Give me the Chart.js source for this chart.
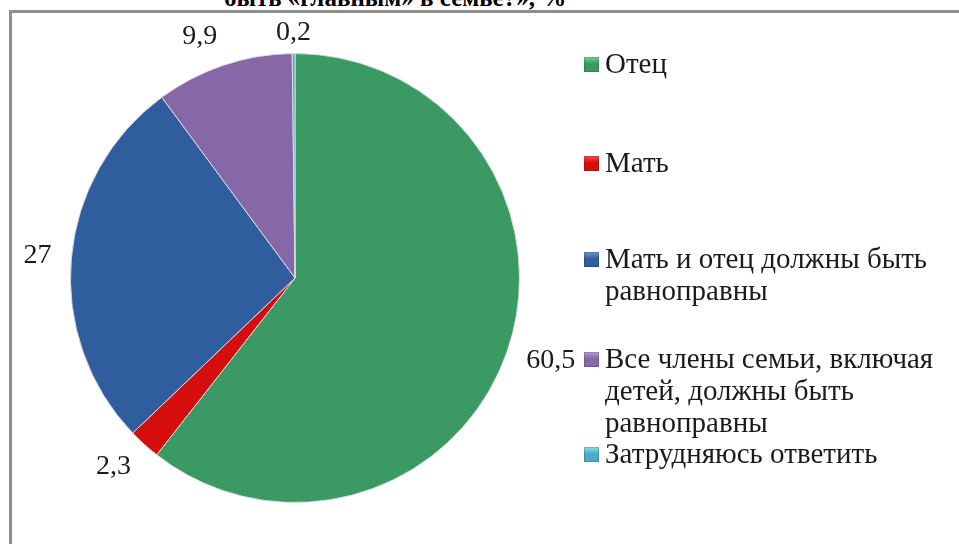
<!DOCTYPE html>
<html>
<head>
<meta charset="utf-8">
<script src="https://cdn.jsdelivr.net/npm/chart.js@4"></script>
<style>
  html, body { margin: 0; padding: 0; background: #fff; overflow: hidden; }
  #wrap { position: relative; width: 959px; height: 544px; overflow: hidden; font-family: "Liberation Serif", "DejaVu Serif", serif; }
  #frame { position: absolute; left: 9px; top: 10px; width: 2000px; height: 2000px; border: 3px solid #8e8e8e; box-sizing: border-box; }
  #title { position: absolute; left: 224px; top: -14px; font-size: 25px; font-weight: bold; line-height: 24px; white-space: nowrap; color: #000; }
  #chart { position: absolute; left: 0; top: 0; }
  .item { position: absolute; left: 584px; width: 370px; font-size: 29px; line-height: 32px; color: #1a1a1a; }
  .box { position: absolute; left: 0; top: 10px; width: 15px; height: 15px; }
  .txt { margin-left: 21px; }
</style>
</head>
<body>
<div id="wrap">
  <div id="frame"></div>
  <div id="title">быть «главным» в семье?», %</div>
  <canvas id="chart" width="959" height="544"></canvas>
  <div id="legend"></div>
</div>
<script>
// Data
var categories = ['Отец', 'Мать', 'Мать и отец должны быть равноправны',
                  'Все члены семьи, включая детей, должны быть равноправны', 'Затрудняюсь ответить'];
var legendLines = [['Отец'], ['Мать'], ['Мать и отец должны быть', 'равноправны'],
                   ['Все члены семьи, включая', 'детей, должны быть', 'равноправны'], ['Затрудняюсь ответить']];
var values = [60.5, 2.3, 27, 9.9, 0.2];
var valueLabels = ['60,5', '2,3', '27', '9,9', '0,2'];

// Styles
var colors = ['#3b9a64', '#d40d0d', '#2f5d9d', '#8668a9', '#4babc5'];
var lightColors = ['#6fd39a', '#ff4a4a', '#6a97d8', '#b89ad8', '#8adcf0'];
var legendTops = [47, 146, 242, 342, 437];

// Value labels outside the slices, kept inside the frame
var outsideLabels = {
    id: 'outsideLabels',
    afterDatasetsDraw: function(chart) {
        var ctx = chart.ctx;
        var arcs = chart.getDatasetMeta(0).data;
        ctx.save();
        ctx.font = '28px "Liberation Serif", "DejaVu Serif", serif';
        ctx.fillStyle = '#1a1a1a';
        ctx.textAlign = 'center';
        ctx.textBaseline = 'middle';
        arcs.forEach(function(arc, i) {
            var p = arc.getProps(['x', 'y', 'startAngle', 'endAngle', 'outerRadius'], true);
            var mid = (p.startAngle + p.endAngle) / 2;
            var dx = Math.cos(mid), dy = Math.sin(mid);
            var w = ctx.measureText(valueLabels[i]).width;
            var h = 20;
            var r = p.outerRadius + 20;
            var x = p.x + dx * r + (Math.abs(dx) > 0.05 ? Math.sign(dx) * w / 2 : 0);
            var y = p.y + dy * r + dy * h / 2;
            if (y < 33) y = 33;
            ctx.fillText(valueLabels[i], x, y);
        });
        ctx.restore();
    }
};

var ctx = document.getElementById('chart').getContext('2d');
var myChart = new Chart(ctx, {
    type: 'pie',
    data: {
        labels: categories,
        datasets: [{
            data: values,
            backgroundColor: colors,
            borderColor: 'rgba(225,225,225,0.9)',
            borderWidth: 1
        }]
    },
    options: {
        responsive: false,
        animation: false,
        layout: { padding: { left: 70, right: 439, top: 53, bottom: 41 } },
        plugins: {
            legend: { display: false },
            tooltip: { enabled: false }
        }
    },
    plugins: [outsideLabels]
});

// Legend
var legend = document.getElementById('legend');
legendLines.forEach(function(lines, i) {
    var item = document.createElement('div');
    item.className = 'item';
    item.style.top = legendTops[i] + 'px';
    var box = document.createElement('div');
    box.className = 'box';
    box.style.background = 'linear-gradient(180deg, ' + lightColors[i] + ' 0%, ' + colors[i] + ' 45%, ' + colors[i] + ' 100%)';
    box.style.boxShadow = 'inset 0 0 0 1px rgba(0,0,0,0.15)';
    item.appendChild(box);
    var txt = document.createElement('div');
    txt.className = 'txt';
    txt.innerHTML = lines.join('<br>');
    item.appendChild(txt);
    legend.appendChild(item);
});
</script>
</body>
</html>
